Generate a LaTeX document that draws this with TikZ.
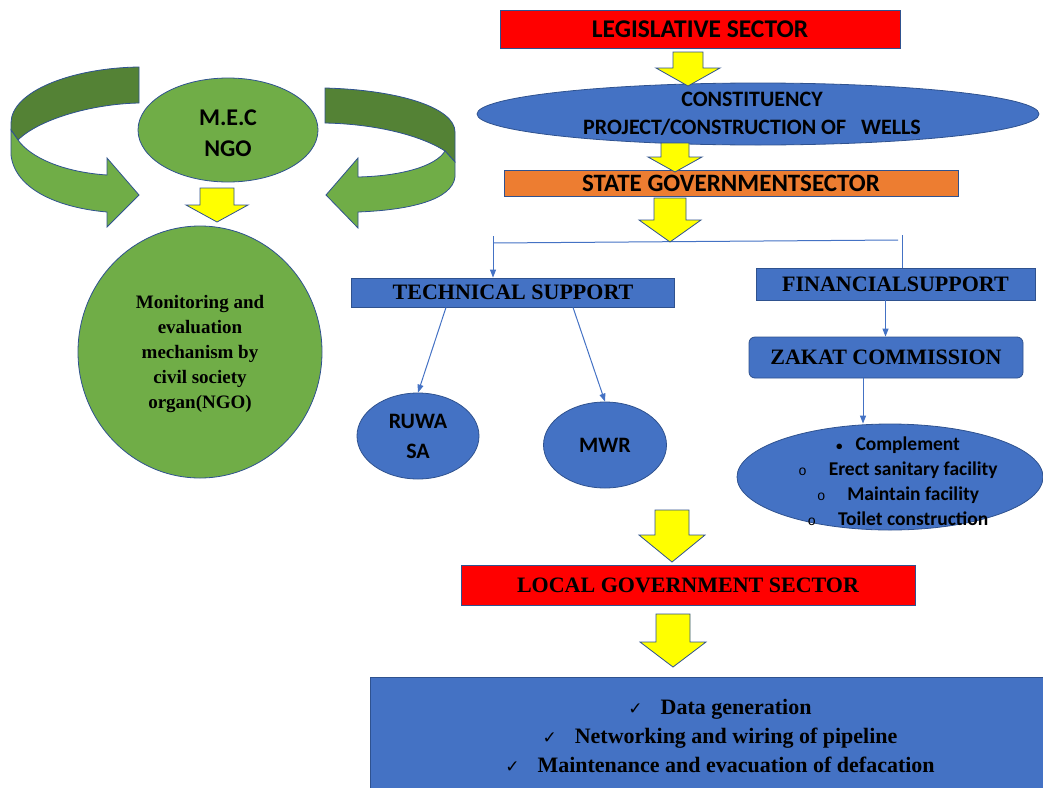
\documentclass[tikz,border=0pt]{standalone}
\usepackage{fontspec}
\setmainfont{Liberation Serif}
\newfontfamily\carlito{Carlito}
\newfontfamily\dejavu{DejaVu Sans}
\newfontfamily\lmono{Liberation Mono}
\usetikzlibrary{shapes.geometric,arrows.meta}
\definecolor{offblue}{HTML}{4472C4}
\definecolor{edgeblue}{HTML}{2F528F}
\definecolor{offgreen}{HTML}{70AD47}
\definecolor{darkgreen}{HTML}{548235}
\definecolor{offorange}{HTML}{ED7D31}
\definecolor{offred}{HTML}{FF0000}
\definecolor{offyellow}{HTML}{FFFF00}
\begin{document}
\begin{tikzpicture}[x=1pt,y=-1pt,
    outline/.style={draw=edgeblue,line width=0.8pt},
    rbox/.style={outline,rectangle,inner sep=0pt},
    ebox/.style={outline,ellipse,inner sep=0pt},
    sans/.style={align=center,inner sep=0pt},
    serifbox/.style={rbox,fill=offblue,font=\bfseries\fontsize{22}{26}\selectfont},
    conn/.style={draw=offblue,line width=1pt},
    linkarrow/.style={-{Triangle[length=8pt,width=6pt]}},
    yarr/.style={outline,fill=offyellow}]
\useasboundingbox (0,0) rectangle (1043,787);

% curved arrows round the NGO
\filldraw[outline,fill=darkgreen] (139,67) .. controls (70,68) and (11,92) .. (11,123) -- (11,130) -- (18,140) .. controls (38,120) and (90,104) .. (139,103) -- cycle;
\filldraw[outline,fill=offgreen] (11,130) -- (11,155) .. controls (15,190) and (60,208) .. (107,212) -- (107,227) -- (139,195) -- (107,158) -- (107,175) .. controls (62,172) and (30,157) .. (18,140) -- cycle;
\filldraw[outline,fill=darkgreen] (325,88) .. controls (400,90) and (455,108) .. (455,132) -- (455,162) -- (445,151) .. controls (420,135) and (375,124) .. (325,123) -- cycle;
\filldraw[outline,fill=offgreen] (445,151) -- (455,162) -- (455,177) .. controls (452,200) and (410,210) .. (358,212) -- (358,228) -- (326,195) -- (358,158) -- (358,177) .. controls (402,176) and (436,166) .. (445,151) -- cycle;

\node[ebox,fill=offgreen,minimum width=180pt,minimum height=104pt] (mec) at (228,130) {};
\node[sans,font=\carlito\bfseries\fontsize{24}{31}\selectfont] (mecT) at (228,133) {M.E.C\\NGO};
\node[ebox,fill=offgreen,minimum width=244pt,minimum height=252pt] (mon) at (200,352) {};
\node[sans,font=\bfseries\fontsize{19}{25}\selectfont] (monT) at (200,354) {Monitoring and\\evaluation\\mechanism by\\civil society\\organ(NGO)};

% sectors
\node[rbox,fill=offred,minimum width=400pt,minimum height=38pt,font=\carlito\bfseries\fontsize{25.5}{28}\selectfont] (leg) at (700,29) {LEGISLATIVE SECTOR};
\node[ebox,fill=offblue,minimum width=562pt,minimum height=62pt] (cons) at (758,114) {};
\node[sans,font=\carlito\bfseries\fontsize{22}{28}\selectfont] (consT) at (752,114) {CONSTITUENCY\\PROJECT/CONSTRUCTION OF~~~WELLS};
\node[rbox,fill=offorange,minimum width=454pt,minimum height=26pt,font=\carlito\bfseries\fontsize{25}{28}\selectfont] (state) at (731,183) {STATE GOVERNMENTSECTOR};

\node[serifbox,minimum width=323pt,minimum height=29pt] (tech) at (513,292.5) {TECHNICAL SUPPORT};
\node[serifbox,minimum width=279pt,minimum height=32pt] (fin) at (895.5,284) {FINANCIALSUPPORT};
\node[serifbox,rounded corners=6pt,minimum width=274pt,minimum height=41pt] (zakat) at (886,357.5) {ZAKAT COMMISSION};

\node[ebox,fill=offblue,minimum width=122pt,minimum height=86pt] (ruwa) at (418,436) {};
\node[sans,font=\carlito\bfseries\fontsize{22}{30}\selectfont] (ruwaT) at (ruwa) {RUWA\\SA};
\node[ebox,fill=offblue,minimum width=123pt,minimum height=86pt] (mwr) at (605,445) {};
\node[sans,font=\carlito\bfseries\fontsize{22}{30}\selectfont] (mwrT) at (mwr) {MWR};

\node[ebox,fill=offblue,minimum width=306pt,minimum height=106pt] (bul) at (890,477) {};
\node[sans,font=\carlito\bfseries\fontsize{19.5}{25}\selectfont] (bulT) at (898,481) {{\fontsize{13}{25}\selectfont\textbullet}\hspace{13pt}Complement\\
  {\lmono\mdseries\fontsize{14}{25}\selectfont o}\hspace{22pt}Erect sanitary facility\\
  {\lmono\mdseries\fontsize{14}{25}\selectfont o}\hspace{22pt}Maintain facility\\
  {\lmono\mdseries\fontsize{14}{25}\selectfont o}\hspace{22pt}Toilet construction};

\node[rbox,fill=offred,minimum width=454pt,minimum height=40pt,font=\bfseries\fontsize{22}{26}\selectfont] (local) at (688,585) {LOCAL GOVERNMENT SECTOR};
\node[rbox,fill=offblue,minimum width=680pt,minimum height=116pt,anchor=north west] (res) at (370,677) {};
\node[sans,font=\bfseries\fontsize{22}{29}\selectfont] (resT) at (720,736) {{\dejavu\mdseries\fontsize{17}{29}\selectfont ✓}\hspace{18pt}Data generation\\
  {\dejavu\mdseries\fontsize{17}{29}\selectfont ✓}\hspace{18pt}Networking and wiring of pipeline\\
  {\dejavu\mdseries\fontsize{17}{29}\selectfont ✓}\hspace{18pt}Maintenance and evacuation of defacation};

% support lines
\coordinate (splitL) at (493,243);
\coordinate (splitR) at (898,240);
\coordinate (techIn) at (493,236);
\coordinate (finIn) at (902,235);
\draw[conn] (splitL) -- (splitR);
\draw[conn,linkarrow] (techIn) -- (techIn |- tech.north);
\draw[conn] (finIn) -- (finIn |- fin.north);
\draw[conn,linkarrow] ([xshift=-67pt]tech.south) -- (ruwa.north);
\draw[conn,linkarrow] ([xshift=60pt]tech.south) -- (mwr.north);
\draw[conn,linkarrow] ([xshift=-10pt]fin.south) -- ([xshift=-10pt]fin.south |- zakat.north);
\draw[conn,linkarrow] ([xshift=-23pt]zakat.south) -- ([xshift=-23pt]zakat.south |- bul.north);

% yellow block arrows
\foreach \xc/\yt/\yb/\yp/\ws/\wh in {217/188/205/222/17/31, 688/52/68/86/15/32, 675/143/157/172/14/27,
    670/198/220/242/16/31, 672/510/535/562/17/33, 673/614/642/667/17/33}
  \filldraw[yarr] (\xc-\ws,\yt) -- (\xc+\ws,\yt) -- (\xc+\ws,\yb) -- (\xc+\wh,\yb) -- (\xc,\yp) -- (\xc-\wh,\yb) -- (\xc-\ws,\yb) -- cycle;
\end{tikzpicture}
\end{document}
